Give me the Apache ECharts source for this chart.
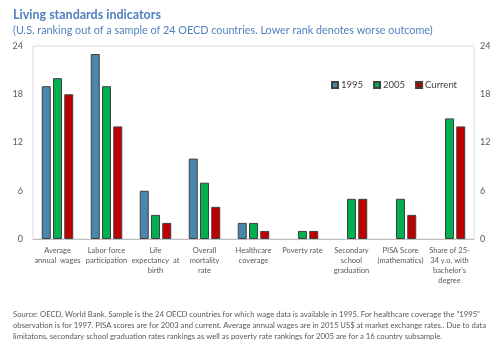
<!DOCTYPE html>
<html><head><meta charset="utf-8">
<script src="https://cdn.jsdelivr.net/npm/echarts@6/dist/echarts.min.js"></script>
<style>html,body{margin:0;padding:0;background:#fff}#c{width:500px;height:346px}</style>
</head><body><div id="c"></div>
<script>
const categories = ["Average\nannual  wages","Labor force\nparticipation","Life\nexpectancy  at\nbirth","Overall\nmortality\nrate","Healthcare\ncoverage","Poverty rate","Secondary\nschool\ngraduation","PISA Score\n(mathematics)","Share of 25-\n34 y.o. with\nbachelor's\ndegree"];
const s1995 = [19, 23, 6, 10, 2, null, null, null, null];
const s2005 = [20, 19, 3, 7, 2, 1, 5, 5, 15];
const sCurrent = [18, 14, 2, 4, 1, 1, 5, 3, 14];
const yTicks = [0, 6, 12, 18, 24];
const FONT = "Lato";
const chart = echarts.init(document.getElementById('c'), null, {renderer:'canvas'});
const border = {borderColor:'#404040', borderWidth:1};
const axisLab = {color:'#595959', fontSize:9, fontFamily:FONT};
chart.setOption({
  animation:false,
  textStyle:{fontFamily:FONT},
  title:[
    {text:'Living standards indicators', left:8, top:3, textStyle:{fontSize:12.5, fontWeight:'bold', color:'#4f81bd', fontFamily:FONT}},
    {text:'(U.S. ranking out of a sample of 24 OECD countries. Lower rank denotes worse outcome)', left:8, top:20, textStyle:{fontSize:10.8, fontWeight:'normal', color:'#4f81bd', fontFamily:FONT}},
    {text:'Source: OECD, World Bank. Sample is the 24 OECD countries for which wage data is available in 1995. For healthcare coverage the "1995"\nobservation is for 1997. PISA scores are for 2003 and current. Average annual wages are in 2015 US$ at market exchange rates.. Due to data\nlimitatons, secondary school graduation rates rankings as well as poverty rate rankings for 2005 are for a 16 country subsample.', left:8, top:304, textStyle:{fontSize:7.7, lineHeight:11, fontWeight:'normal', color:'#595959', fontFamily:FONT}}
  ],
  legend:{
    data:['1995','2005','Current'], left:326, top:75, itemWidth:6, itemHeight:6, itemGap:10,
    icon:'rect', textStyle:{fontSize:9.5, color:'#404040', fontFamily:FONT, padding:[0,0,0,-2]}
  },
  grid:{left:33, right:26, top:46, bottom:107, show:true, borderColor:'#d9d9d9', borderWidth:1},
  xAxis:{type:'category', data:categories,
    axisLine:{lineStyle:{color:'#bfbfbf'}}, axisTick:{show:false},
    axisLabel:{interval:0, color:'#595959', fontSize:7.5, lineHeight:10, margin:7, fontFamily:FONT}},
  yAxis:[
    {type:'value', min:0, max:24, interval:6, position:'left', splitLine:{show:false}, axisLine:{show:false}, axisTick:{show:false}, axisLabel:Object.assign({margin:10}, axisLab)},
    {type:'value', min:0, max:24, interval:6, position:'right', splitLine:{show:false}, axisLine:{show:false}, axisTick:{show:false}, axisLabel:Object.assign({margin:6}, axisLab)}
  ],
  series:[
    {name:'1995', type:'bar', data:s1995, barWidth:9, barGap:'25%', itemStyle:Object.assign({color:'#4a87ad'}, border)},
    {name:'2005', type:'bar', data:s2005, barWidth:9, barGap:'25%', itemStyle:Object.assign({color:'#00b050'}, border)},
    {name:'Current', type:'bar', data:sCurrent, barWidth:9, barGap:'25%', itemStyle:Object.assign({color:'#c00000'}, border)}
  ]
});
</script></body></html>
